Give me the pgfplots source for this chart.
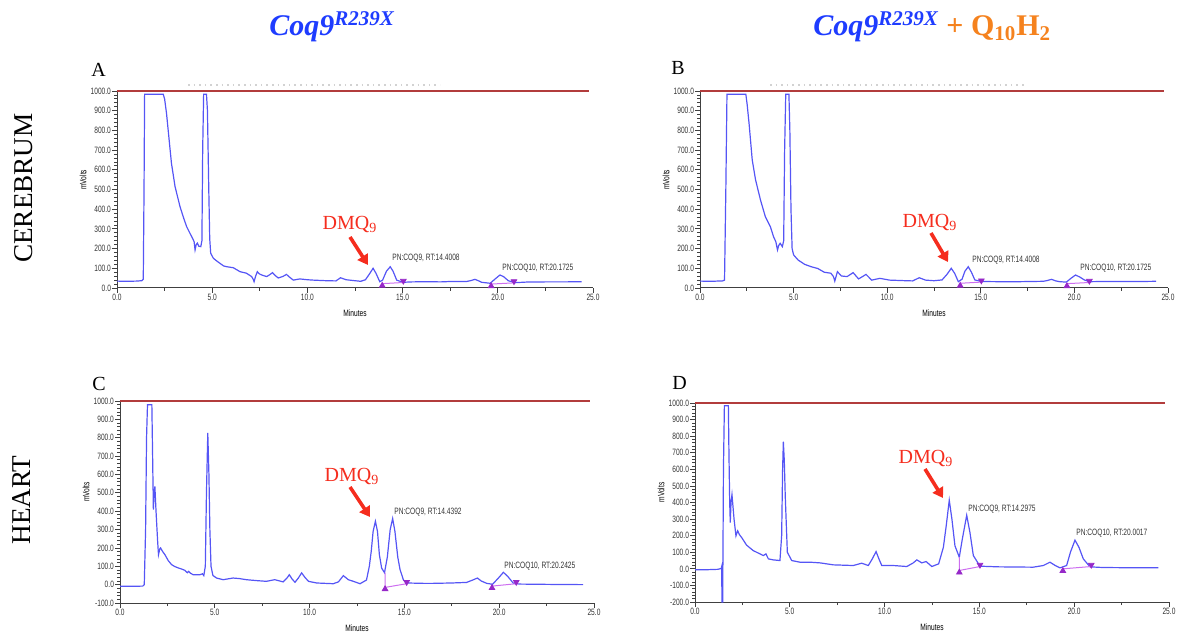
\documentclass[border=0pt]{standalone}
\usepackage{fontspec}
\usepackage{pgfplots}
\pgfplotsset{compat=1.18}
\usetikzlibrary{arrows.meta}
\setmainfont{Liberation Serif}
\newfontfamily\narrowsf[FakeStretch=0.72]{Liberation Sans}
\newcommand\ticksf{\narrowsf\fontsize{4.6}{5}\selectfont}
\definecolor{trace}{RGB}{85,85,245}
\definecolor{topred}{RGB}{178,60,60}
\definecolor{basecol}{RGB}{205,110,240}
\definecolor{markcol}{RGB}{150,40,200}
\definecolor{titleblue}{RGB}{30,60,255}
\definecolor{qorange}{RGB}{245,130,30}
\definecolor{arrred}{RGB}{245,45,30}

\pgfplotsset{
  chrom/.style={
    scale only axis,
    axis lines=left,
    axis line style={-, draw=black!75, line width=0.5pt},
    xmin=0, xmax=25, ymax=1000,
    xtick={0,5,...,25}, minor x tick num=1,
    ytick={-200,-100,...,1000}, minor y tick num=4,
    tick align=outside,
    major tick length=2.5pt, minor tick length=1.5pt,
    tick style={black!75, line width=0.4pt},
    every tick label/.append style={font=\ticksf, text=black!80},
    xticklabel style={yshift=3pt},
    yticklabel style={xshift=3pt},
    /pgf/number format/fixed,
    /pgf/number format/fixed zerofill,
    /pgf/number format/precision=1,
    /pgf/number format/1000 sep={},
    /pgf/number format/assume math mode=true,
    xlabel={Minutes}, ylabel={mVolts},
    xlabel style={font=\ticksf, at={(axis description cs:0.5,0)}, anchor=center, yshift=-12.5pt},
    ylabel style={font=\ticksf, at={(axis description cs:0,0.55)}, anchor=center, yshift=17pt},
    clip=false,
  },
  tr/.style={trace, line width=0.6pt},
  top/.style={topred, line width=1pt},
  bl/.style={basecol, line width=0.5pt},
  mk/.style={only marks, mark=triangle*, mark size=1.6pt, markcol},
  mkd/.style={only marks, mark=triangle*, mark size=1.6pt, markcol, mark options={rotate=180}},
}

\begin{document}
\begin{tikzpicture}[x=0.5pt,y=-0.5pt]
\useasboundingbox (0,0) rectangle (1178,636);

% titles and row labels
\node[anchor=base west, inner sep=0, font=\fontsize{15}{18}\selectfont\bfseries] at (269,36)
  {\textcolor{titleblue}{\itshape Coq9\textsuperscript{R239X}}};
\node[anchor=base west, inner sep=0, font=\fontsize{15}{18}\selectfont\bfseries] at (813,36)
  {\textcolor{titleblue}{\itshape Coq9\textsuperscript{R239X}} \textcolor{qorange}{+ Q\textsubscript{10}H\textsubscript{2}}};
\node[rotate=90, font=\fontsize{13.6}{16}\selectfont] at (24,188) {CEREBRUM};
\node[rotate=90, font=\fontsize{13.6}{16}\selectfont] at (22,500) {HEART};
\foreach \l/\x/\y in {A/91/77, B/671/75, C/92/390, D/672/389}
  \node[anchor=base west, inner sep=0, font=\fontsize{10}{12}\selectfont] at (\x,\y) {\l};

\draw[gray!35, dotted, line width=0.8pt] (188,85) -- (440,85);
\draw[gray!35, dotted, line width=0.8pt] (770,85) -- (1024,85);

% ---------- A ----------
\begin{axis}[chrom, at={(58.5pt,-144pt)}, anchor=south west, width=238pt, height=98.5pt, ymin=0]
\addplot[top] coordinates {(0,1000) (24.8,1000)};
\addplot[tr] coordinates {
(0,35) (0.5,34) (1.0,35) (1.3,37) (1.38,45) (1.42,500) (1.45,983) (2.43,983) (2.5,960)
(2.6,887) (2.73,760) (2.86,633) (3.05,514) (3.31,413) (3.5,355) (3.66,311) (3.83,278)
(4.01,244) (4.05,235) (4.1,193) (4.16,220) (4.22,228) (4.3,212) (4.4,210) (4.46,240)
(4.5,700) (4.55,983) (4.7,983) (4.75,900) (4.82,500) (4.87,250) (4.92,177) (5.06,151)
(5.2,140) (5.41,125) (5.6,112) (5.76,108) (6.11,103) (6.3,92) (6.46,83) (6.8,75)
(7.07,58) (7.15,45) (7.2,32) (7.28,60) (7.37,83) (7.47,72) (7.6,66) (7.86,58) (8.0,66)
(8.17,78) (8.3,64) (8.47,51) (8.7,58) (8.9,69) (9.05,56) (9.26,40) (9.6,46) (10.0,42)
(10.3,40) (11.0,37) (11.5,36) (11.74,52) (12.03,42) (12.4,38) (12.8,34) (13.05,42)
(13.25,70) (13.45,100) (13.6,75) (13.8,32) (13.95,40) (14.15,85) (14.35,108) (14.5,85)
(14.69,40) (15.02,29) (15.5,31) (16.25,32) (17,31) (17.5,33) (18.36,33) (18.6,38)
(18.8,44) (19.0,36) (19.15,29) (19.6,24) (19.85,45) (20.11,66) (20.3,58) (20.55,37)
(20.9,27) (21.5,30) (22.5,31) (23.5,31) (24.4,32)};
\addplot[bl] coordinates {(13.93,22) (15.04,28)};
\addplot[bl] coordinates {(19.65,20) (20.85,26)};
\addplot[mk] coordinates {(13.93,12) (19.65,10)};
\addplot[mkd] coordinates {(15.04,36) (20.85,34)};
\end{axis}

% ---------- B ----------
\begin{axis}[chrom, at={(350pt,-144pt)}, anchor=south west, width=234pt, height=98.5pt, ymin=0]
\addplot[top] coordinates {(0,1000) (24.8,1000)};
\addplot[tr] coordinates {
(0,35) (0.6,34) (1.2,36) (1.31,40) (1.38,500) (1.44,983) (2.45,983) (2.52,930) (2.62,836)
(2.79,650) (2.97,548) (3.23,447) (3.49,362) (3.76,311) (3.93,260) (4.05,235) (4.14,193)
(4.2,215) (4.28,227) (4.4,210) (4.47,240) (4.52,700) (4.58,983) (4.75,983) (4.8,800)
(4.86,400) (4.92,200) (5.0,168) (5.24,142) (5.59,120) (5.94,108) (6.29,99) (6.64,80)
(6.99,75) (7.13,58) (7.2,35) (7.34,83) (7.55,61) (7.86,58) (8.18,78) (8.47,46) (8.87,69)
(9.17,40) (9.61,49) (10.13,40) (11.0,37) (11.36,36) (11.71,52) (12.05,40) (12.5,37)
(12.93,41) (13.2,70) (13.42,100) (13.6,75) (13.8,32) (14.0,45) (14.15,85) (14.33,108)
(14.5,80) (14.68,41) (15.03,33) (16,32) (17,32) (18.34,34) (18.55,38) (18.78,44) (19.0,36)
(19.22,32) (19.57,30) (19.8,48) (20.06,66) (20.3,55) (20.53,41) (20.8,32) (21.5,33)
(22.5,33) (23.5,33) (24.37,34)};
\addplot[bl] coordinates {(13.9,24) (15.03,30)};
\addplot[bl] coordinates {(19.6,22) (20.8,28)};
\addplot[mk] coordinates {(13.9,12) (19.6,10)};
\addplot[mkd] coordinates {(15.03,38) (20.8,36)};
\end{axis}

% ---------- C ----------
\begin{axis}[chrom, at={(60pt,-301.5pt)}, anchor=south west, width=237pt, height=101pt, ymin=-100]
\addplot[top] coordinates {(0,1000) (24.8,1000)};
\addplot[tr] coordinates {
(0,-9) (0.6,-9) (1.2,-8) (1.28,0) (1.35,300) (1.4,800) (1.45,980) (1.68,980) (1.72,700)
(1.76,408) (1.8,500) (1.84,535) (1.9,400) (1.98,245) (2.03,163) (2.1,195) (2.14,200)
(2.25,180) (2.37,163) (2.55,130) (2.72,109) (2.9,98) (3.07,91) (3.25,85) (3.42,78)
(3.55,65) (3.62,72) (3.72,62) (3.86,54) (4.21,54) (4.35,59) (4.42,49) (4.5,100) (4.56,500)
(4.63,826) (4.69,600) (4.74,300) (4.8,100) (4.9,50) (5.09,36) (5.44,27) (5.96,36)
(6.3,33) (6.66,27) (7.2,22) (7.72,18) (8.16,27) (8.35,22) (8.6,15) (8.8,35) (8.93,54)
(9.08,30) (9.23,13) (9.4,35) (9.58,64) (9.75,40) (9.94,18) (10.37,9) (11.25,5) (11.52,15)
(11.78,49) (12.04,27) (12.31,18) (12.66,5) (13.0,25) (13.15,100) (13.25,181) (13.35,290)
(13.47,345) (13.58,290) (13.68,163) (13.8,90) (13.95,65) (14.1,150) (14.25,300)
(14.38,360) (14.5,290) (14.65,150) (14.77,82) (14.95,25) (15.12,9) (16.0,7) (16.52,7)
(17.5,9) (18.28,12) (18.6,25) (18.85,36) (19.05,20) (19.34,7) (19.65,2) (19.95,35)
(20.22,67) (20.45,45) (20.75,7) (21.1,3) (22,2) (23,1) (24.43,0)};
\addplot[bl] coordinates {(13.98,65) (13.98,-15) (15.12,5)};
\addplot[bl] coordinates {(19.62,-8) (20.9,5)};
\addplot[mk] coordinates {(13.98,-24) (19.62,-18)};
\addplot[mkd] coordinates {(15.12,14) (20.9,14)};
\end{axis}

% ---------- D ----------
\begin{axis}[chrom, at={(347.5pt,-301pt)}, anchor=south west, width=237pt, height=99.5pt, ymin=-200]
\addplot[top] coordinates {(0,1000) (24.8,1000)};
\addplot[tr] coordinates {
(0,-5) (0.7,-5) (1.2,-3) (1.38,2) (1.41,15) (1.42,-200) (1.46,-200) (1.47,0) (1.5,600)
(1.55,983) (1.76,983) (1.79,700) (1.83,400) (1.86,279) (1.9,400) (1.95,448) (2.0,380)
(2.06,299) (2.16,199) (2.25,229) (2.35,205) (2.46,189) (2.72,143) (3.07,110) (3.43,90)
(3.6,80) (3.74,90) (3.87,60) (4.13,54) (4.48,50) (4.57,200) (4.62,600) (4.66,767)
(4.71,650) (4.76,438) (4.87,100) (5.1,50) (5.54,40) (6.07,40) (6.59,36) (7.3,24)
(8.35,20) (8.79,34) (9.14,20) (9.35,60) (9.55,104) (9.7,60) (9.85,20) (10.46,20)
(11.17,14) (11.5,35) (11.7,54) (11.96,36) (12.19,44) (12.49,14) (12.85,30) (13.1,130)
(13.25,260) (13.41,414) (13.55,300) (13.71,139) (13.94,70) (14.1,180) (14.33,323)
(14.5,220) (14.68,80) (15.03,16) (16,12) (17.84,10) (18.37,20) (18.72,40) (19.0,20)
(19.25,6) (19.6,20) (19.8,100) (20.04,173) (20.25,130) (20.48,60) (20.83,12) (21.5,8)
(22.5,7) (23.5,6) (24.44,6)};
\addplot[bl] coordinates {(13.94,70) (13.94,-10) (15.03,14)};
\addplot[bl] coordinates {(19.4,0) (20.9,14)};
\addplot[mk] coordinates {(13.94,-22) (19.4,-12)};
\addplot[mkd] coordinates {(15.03,24) (20.9,24)};
\end{axis}

% annotations (pixel positions)
\tikzset{pn/.style={anchor=west, inner sep=0, font=\narrowsf\fontsize{4.6}{5}\selectfont, text=black!80},
  dmq/.style={inner sep=0, text=arrred, font=\fontsize{10}{12}\selectfont},
  arr/.style={arrred, line width=1.8pt, -{Triangle[length=5pt,width=6pt]}}}
\node[pn] at (392,258) {PN:COQ9, RT:14.4008};
\node[pn] at (502,268) {PN:COQ10, RT:20.1725};
\node[pn] at (972,260) {PN:COQ9, RT:14.4008};
\node[pn] at (1080,268) {PN:COQ10, RT:20.1725};
\node[pn] at (394,512) {PN:COQ9, RT:14.4392};
\node[pn] at (504,566) {PN:COQ10, RT:20.2425};
\node[pn] at (968,509) {PN:COQ9, RT:14.2975};
\node[pn] at (1076,533) {PN:COQ10, RT:20.0017};
\node[dmq] at (350,225) {DMQ\textsubscript{9}};
\node[dmq] at (930,223) {DMQ\textsubscript{9}};
\node[dmq] at (352,476) {DMQ\textsubscript{9}};
\node[dmq] at (926,458) {DMQ\textsubscript{9}};
\draw[arr] (350,237) -- (368,265);
\draw[arr] (931,233) -- (948,262);
\draw[arr] (350,487) -- (370,517);
\draw[arr] (925,469) -- (943,498);
\end{tikzpicture}
\end{document}
